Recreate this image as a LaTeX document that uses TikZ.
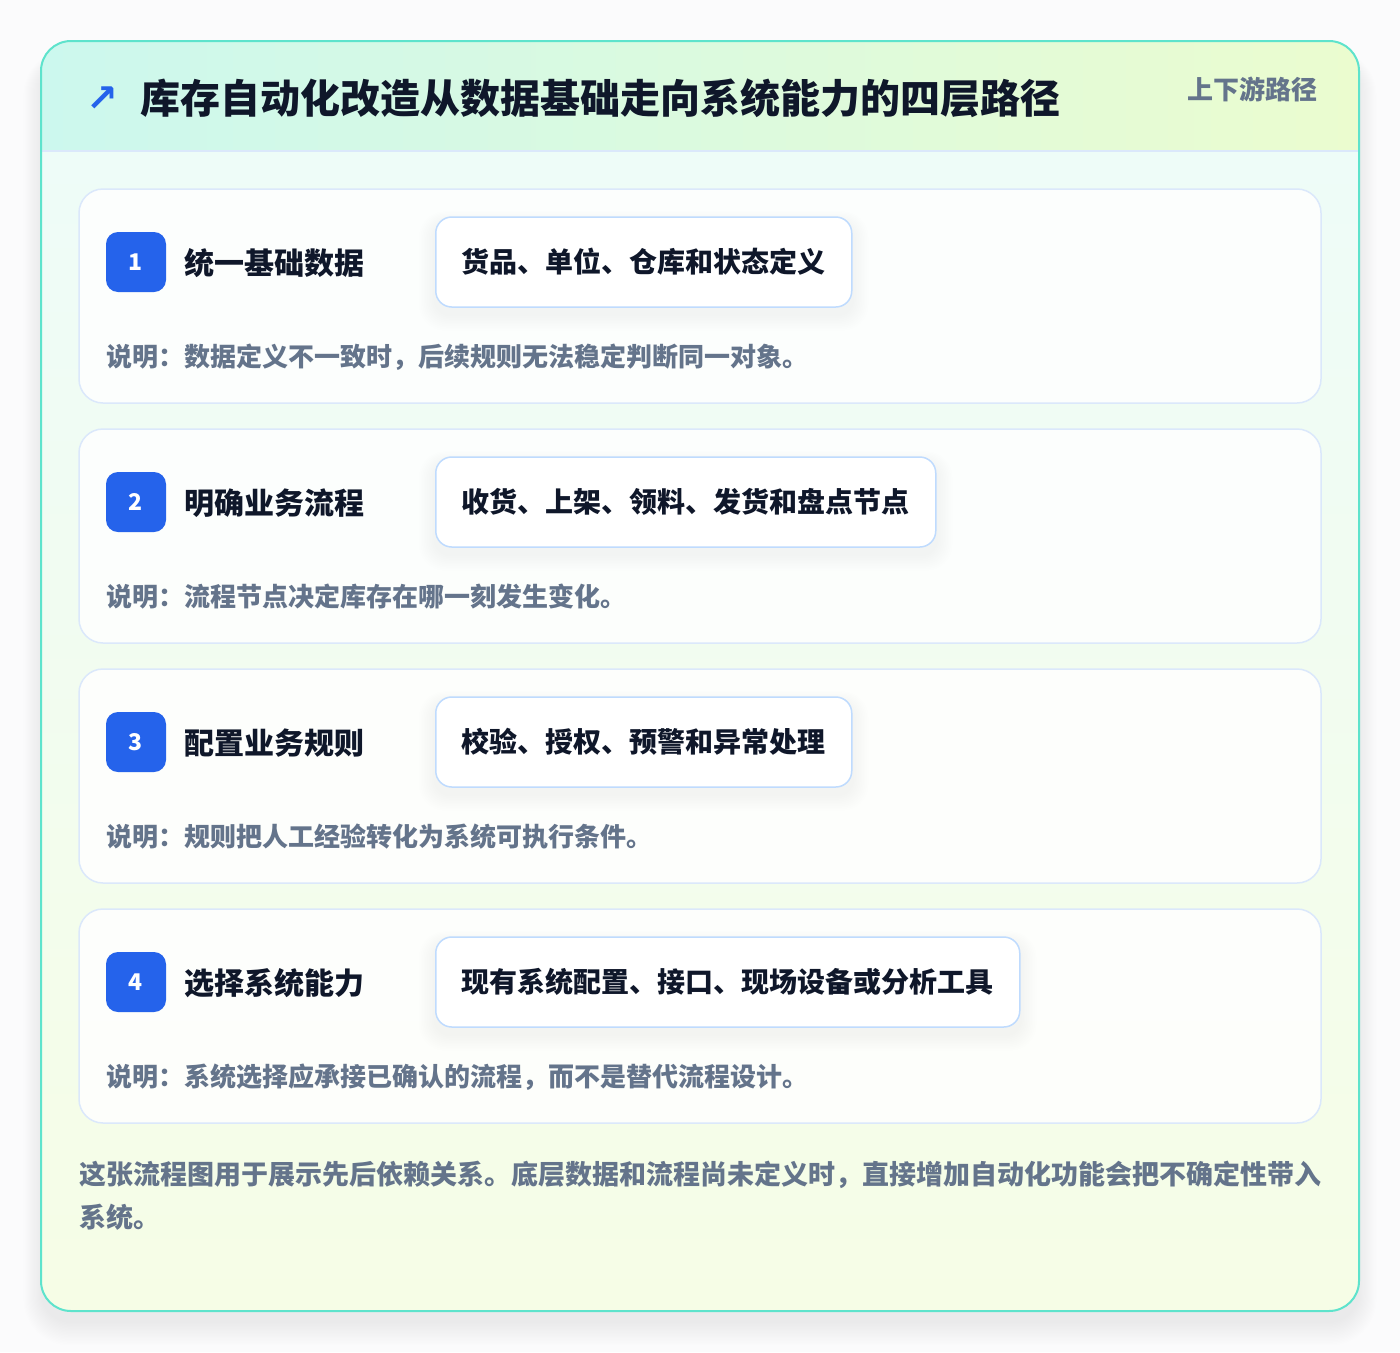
\documentclass[tikz,border=0pt]{standalone}
\usepackage{fontspec}
\setmainfont{Noto Sans CJK SC}
\newfontfamily\arrowfont{DejaVu Sans}
\usetikzlibrary{calc}
\definecolor{pagebg}{HTML}{FBFBFC}
\definecolor{cardedge}{HTML}{5EE3CC}
\definecolor{cardtop}{HTML}{EEFCF8}
\definecolor{cardbot}{HTML}{F6FDE6}
\definecolor{headL}{HTML}{CCF8EE}
\definecolor{headR}{HTML}{EBFCCF}
\definecolor{cardline}{HTML}{DBE8FB}
\definecolor{pillline}{HTML}{BFDBFE}
\definecolor{badgeblue}{HTML}{2563EB}
\definecolor{ink}{HTML}{0F172A}
\definecolor{muted}{HTML}{64748B}
\pgfdeclarelayer{bg}
\pgfdeclarelayer{cardl}
\pgfdeclarelayer{shad}
\pgfsetlayers{bg,cardl,shad,main}
\begin{document}
\begin{tikzpicture}[x=1pt,y=-1pt,
  outercard/.style={draw=cardedge, line width=2pt, rounded corners=30pt, minimum width=1318pt, minimum height=1270pt, inner sep=0},
  stepcard/.style={draw=cardline, line width=1.5pt, fill=white, fill opacity=0.85, rounded corners=24pt, minimum width=1242pt, minimum height=214pt, inner sep=0},
  badge/.style={fill=badgeblue, rounded corners=12pt, minimum size=60pt, inner sep=0, text=white, font=\fontsize{23}{23}\selectfont\bfseries},
  steptitle/.style={anchor=west, inner sep=0, text=ink, font=\fontsize{30}{30}\selectfont\bfseries},
  pill/.style={anchor=west, draw=pillline, line width=1.5pt, fill=white, rounded corners=16pt, minimum height=90pt, inner xsep=26pt, inner ysep=0pt, text=ink, font=\fontsize{28}{28}\selectfont\bfseries},
  desc/.style={anchor=west, inner sep=0, text=muted, font=\fontsize{26}{26}\selectfont\bfseries},
  foot/.style={anchor=west, inner sep=0, text=muted, font=\fontsize{27}{27}\selectfont\bfseries}]
\useasboundingbox (0,0) rectangle (1400,1352);
\begin{pgfonlayer}{bg}
  \fill[pagebg] (0,0) rectangle (1400,1352);
  \foreach \k in {0,...,16}
    \fill[black, opacity=0.0045, rounded corners=30pt+\k*1pt] (41-\k*1.1, 41+18-\k*0.6) rectangle (1359+\k*1.1, 1311+12+\k*1.4);
  \begin{scope}
    \clip[rounded corners=30pt] (41,41) rectangle (1359,1311);
    \shade[top color=cardtop, bottom color=cardbot] (41,151) rectangle (1359,1311);
    \shade[left color=headL, right color=headR] (41,41) rectangle (1359,151);
    \draw[cardline, line width=1.5pt] (41,151) -- (1359,151);
  \end{scope}
\end{pgfonlayer}
\node[outercard] (card) at (700,676) {};
\node[text=badgeblue, inner sep=0, font=\arrowfont\fontsize{38}{38}\selectfont\bfseries] (arrow) at (102,99) {↗};
\node[anchor=west, inner sep=0, text=ink, font=\fontsize{40}{40}\selectfont\bfseries] (title) at (140,98) {库存自动化改造从数据基础走向系统能力的四层路径};
\node[anchor=east, inner sep=0, text=muted, font=\fontsize{26}{26}\selectfont\bfseries] (tag) at (1318,89) {上下游路径};
\foreach \n/\y/\ttl/\pl/\ds in {
  1/189/统一基础数据/货品、单位、仓库和状态定义/说明：数据定义不一致时，后续规则无法稳定判断同一对象。,
  2/429/明确业务流程/收货、上架、领料、发货和盘点节点/说明：流程节点决定库存在哪一刻发生变化。,
  3/669/配置业务规则/校验、授权、预警和异常处理/说明：规则把人工经验转化为系统可执行条件。,
  4/909/选择系统能力/现有系统配置、接口、现场设备或分析工具/说明：系统选择应承接已确认的流程，而不是替代流程设计。}{
  \begin{pgfonlayer}{cardl}
    \node[stepcard] (card\n) at (700,\y+107) {};
  \end{pgfonlayer}
  \node[badge] (badge\n) at (136,\y+73) {\n};
  \node[steptitle] (ttl\n) at (184,\y+74) {\ttl};
  \node[pill] (pill\n) at (435,\y+73) {\pl};
  \node[desc] (desc\n) at (106,\y+168) {\ds};
  \begin{pgfonlayer}{shad}
    \foreach \k in {1,...,10}
      \fill[black, opacity=0.0045, rounded corners=16pt+\k*1pt] ($(pill\n.north west)+(-\k*1.6,-\k*1.2+7)$) rectangle ($(pill\n.south east)+(\k*1.6,\k*1.6+7)$);
  \end{pgfonlayer}
}
\node[foot] (foot1) at (79,1175) {这张流程图用于展示先后依赖关系。底层数据和流程尚未定义时，直接增加自动化功能会把不确定性带入};
\node[foot] (foot2) at (79,1217) {系统。};
\end{tikzpicture}
\end{document}
